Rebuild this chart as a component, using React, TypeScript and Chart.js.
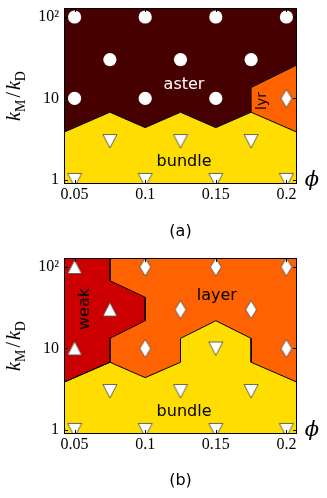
import React, { useEffect, useRef } from 'react';
import { Chart, registerables } from 'chart.js';
Chart.register(...registerables);

// ---------- axes ----------
const phiLimits = [0.0425, 0.2075];
const kLimits = [0.89, 129];
const phiTicks = [0.05, 0.1, 0.15, 0.2];
const phiTickLabels = ['0.05', '0.1', '0.15', '0.2'];
const kTicks = [1, 10, 100];
const kTickLabels = ['1', '10', '10²'];

// ---------- panel (a): simulation points ----------
const asterPhiA = [0.05, 0.1, 0.15, 0.2, 0.075, 0.125, 0.175, 0.05, 0.1, 0.15];
const asterKA = [100, 100, 100, 100, 30, 30, 30, 10, 10, 10];
const lyrPhiA = [0.2];
const lyrKA = [10];
const bundlePhiA = [0.075, 0.125, 0.175, 0.05, 0.1, 0.15, 0.2];
const bundleKA = [3, 3, 3, 1, 1, 1, 1];

// ---------- panel (a): phase boundaries ----------
const bundleEdgePhiA = [0.0425, 0.075, 0.1, 0.125, 0.15, 0.175, 0.2075];
const bundleEdgeKA = [3.85, 6.77, 4.38, 6.77, 4.38, 6.77, 3.85];
const lyrEdgePhiA = [0.175, 0.175, 0.2075];
const lyrEdgeKA = [6.77, 13.6, 25.8];

// ---------- panel (b): simulation points ----------
const weakPhiB = [0.05, 0.075, 0.05];
const weakKB = [100, 30, 10];
const layerPhiB = [0.1, 0.15, 0.2, 0.125, 0.175, 0.1, 0.2];
const layerKB = [100, 100, 100, 30, 30, 10, 10];
const bundlePhiB = [0.15, 0.075, 0.125, 0.175, 0.05, 0.1, 0.15, 0.2];
const bundleKB = [10, 3, 3, 3, 1, 1, 1, 1];

// ---------- panel (b): phase boundaries ----------
const bundleEdgePhiB = [0.0425, 0.075, 0.1, 0.125, 0.125, 0.15, 0.175, 0.175, 0.2075];
const bundleEdgeKB = [3.85, 6.77, 4.38, 6.77, 13.3, 21.9, 13.3, 6.77, 3.85];
const weakEdgePhiB = [0.075, 0.075, 0.1, 0.1, 0.075, 0.075];
const weakEdgeKB = [129, 67.9, 42.5, 21.9, 13.3, 6.77];

// ---------- region labels (data coordinates) ----------
const regionNamesA = ['aster', 'lyr', 'bundle'];
const regionPhiA = [0.1275, 0.1854, 0.1275];
const regionKA = [13.0, 9.3, 1.5];
const regionNamesB = ['weak', 'layer', 'bundle'];
const regionPhiB = [0.0601, 0.1507, 0.1275];
const regionKB = [30.5, 39.4, 1.5];

// ---------- styles ----------
const COLORS = { aster: '#470000', bundle: '#ffdd00', layer: '#ff6200', weak: '#cc0000' };
const labelStyle: any = {
  aster: { color: '#ffffff', size: 16, rot: 0 },
  lyr: { color: '#000000', size: 14, rot: -90 },
  bundle: { color: '#000000', size: 16, rot: 0 },
  weak: { color: '#000000', size: 16, rot: -90 },
  layer: { color: '#000000', size: 16, rot: 0 },
};

const zip = (xs: number[], ys: number[]) => xs.map((x, i) => ({ x, y: ys[i] }));
const [pL, pR] = phiLimits;
const [kB, kT] = kLimits;

const bundleEdgeA = zip(bundleEdgePhiA, bundleEdgeKA);
const lyrEdgeA = zip(lyrEdgePhiA, lyrEdgeKA);
const polysA = [
  { color: COLORS.aster, border: false, pts: [...bundleEdgeA.slice(0, 6), ...lyrEdgeA.slice(1), { x: pR, y: kT }, { x: pL, y: kT }] },
  { color: COLORS.layer, border: true, pts: [...lyrEdgeA, bundleEdgeA[6]] },
  { color: COLORS.bundle, border: true, pts: [{ x: pL, y: kB }, ...bundleEdgeA, { x: pR, y: kB }] },
];
const markersA = [
  { phi: asterPhiA, k: asterKA, style: 'circle' },
  { phi: lyrPhiA, k: lyrKA, style: 'diamond' },
  { phi: bundlePhiA, k: bundleKA, style: 'down' },
];

const bundleEdgeB = zip(bundleEdgePhiB, bundleEdgeKB);
const weakEdgeB = zip(weakEdgePhiB, weakEdgeKB);
const polysB = [
  { color: COLORS.layer, border: false, pts: [...weakEdgeB, ...bundleEdgeB.slice(2), { x: pR, y: kT }] },
  { color: COLORS.weak, border: true, pts: [...weakEdgeB, bundleEdgeB[0], { x: pL, y: kT }] },
  { color: COLORS.bundle, border: true, pts: [{ x: pL, y: kB }, ...bundleEdgeB, { x: pR, y: kB }] },
];
const markersB = [
  { phi: weakPhiB, k: weakKB, style: 'up' },
  { phi: layerPhiB, k: layerKB, style: 'diamond' },
  { phi: bundlePhiB, k: bundleKB, style: 'down' },
];

function makeMarkers() {
  const mk = (w: number, h: number, path: (g: CanvasRenderingContext2D) => void) => {
    const c = document.createElement('canvas');
    c.width = w;
    c.height = h;
    const g = c.getContext('2d')!;
    g.beginPath();
    path(g);
    g.closePath();
    g.fillStyle = '#ffffff';
    g.fill();
    g.lineWidth = 0.8;
    g.strokeStyle = '#444444';
    g.lineJoin = 'miter';
    g.stroke();
    return c;
  };
  return {
    circle: 'circle',
    down: mk(16, 16, (g) => { g.moveTo(1, 1.5); g.lineTo(15, 1.5); g.lineTo(8, 15); }),
    up: mk(16, 16, (g) => { g.moveTo(8, 1); g.lineTo(15, 14.5); g.lineTo(1, 14.5); }),
    diamond: mk(14, 20, (g) => { g.moveTo(7, 1); g.lineTo(12.5, 10); g.lineTo(7, 19); g.lineTo(1.5, 10); }),
  } as any;
}

const SERIF = '"Liberation Serif", "DejaVu Serif", serif';

const decorPlugin = {
  id: 'decor',
  afterDatasetsDraw(chart: any, _args: any, opts: any) {
    const { ctx, chartArea: a } = chart;
    const xs = chart.scales.x;
    const ys = chart.scales.y;
    ctx.save();
    // region labels
    opts.names.forEach((name: string, i: number) => {
      const st = labelStyle[name];
      const px = xs.getPixelForValue(opts.phi[i]);
      const py = ys.getPixelForValue(opts.k[i]);
      ctx.save();
      ctx.translate(px, py);
      if (st.rot) ctx.rotate((st.rot * Math.PI) / 180);
      ctx.font = `${st.size}px "DejaVu Sans"`;
      ctx.fillStyle = st.color;
      ctx.textAlign = 'center';
      ctx.textBaseline = 'alphabetic';
      ctx.fillText(name, 0, 0);
      ctx.restore();
    });
    // frame
    ctx.strokeStyle = '#000';
    ctx.lineWidth = 1;
    ctx.strokeRect(a.left + 0.5, a.top + 0.5, a.right - a.left - 1, a.bottom - a.top - 1);
    // inward ticks on all sides
    ctx.beginPath();
    phiTicks.forEach((v) => {
      const px = Math.round(xs.getPixelForValue(v)) + 0.5;
      ctx.moveTo(px, a.bottom); ctx.lineTo(px, a.bottom - 4);
      ctx.moveTo(px, a.top); ctx.lineTo(px, a.top + 4);
    });
    kTicks.forEach((v) => {
      const py = Math.round(ys.getPixelForValue(v)) + 0.5;
      ctx.moveTo(a.left, py); ctx.lineTo(a.left + 4, py);
      ctx.moveTo(a.right, py); ctx.lineTo(a.right - 4, py);
    });
    ctx.stroke();
    // y axis title  k_M / k_D
    const S = 20;
    const sub = `${Math.round(S * 0.7)}px ${SERIF}`;
    const parts: [string, string, number, number][] = [
      ['k', `italic ${S}px ${SERIF}`, 0, 0],
      ['M', sub, S * 0.25, 2],
      ['/', `${S}px ${SERIF}`, 0, 2],
      ['k', `italic ${S}px ${SERIF}`, 0, 0],
      ['D', sub, S * 0.25, 0],
    ];
    let total = 0;
    const widths = parts.map(([t, f, , gap]) => { ctx.font = f; const w = ctx.measureText(t).width + gap; total += w; return w; });
    ctx.save();
    ctx.translate(20, (a.top + a.bottom) / 2);
    ctx.rotate(-Math.PI / 2);
    ctx.fillStyle = '#000';
    ctx.textAlign = 'left';
    ctx.textBaseline = 'alphabetic';
    let x = -total / 2;
    parts.forEach(([t, f, dy], i) => { ctx.font = f; ctx.fillText(t, x, dy); x += widths[i]; });
    ctx.restore();
    // x axis title phi
    ctx.font = `italic 21px "DejaVu Serif", serif`;
    ctx.fillStyle = '#000';
    ctx.textAlign = 'center';
    ctx.textBaseline = 'alphabetic';
    ctx.fillText('ϕ', a.right + 15, a.bottom + 2);
    ctx.restore();
  },
};

function PhaseChart({ polys, markers, names, phi, k }: any) {
  const ref = useRef<HTMLCanvasElement>(null);
  useEffect(() => {
    const shapes = makeMarkers();
    const n = polys.length;
    const datasets: any[] = [
      ...markers.map((m: any) => ({
        type: 'scatter',
        data: zip(m.phi, m.k),
        pointStyle: shapes[m.style],
        pointRadius: m.style === 'circle' ? 6.6 : 7,
        pointHoverRadius: m.style === 'circle' ? 6.6 : 7,
        backgroundColor: '#ffffff',
        borderColor: '#ffffff',
        borderWidth: 0,
        clip: 0,
        order: 0,
      })),
      ...polys.map((p: any, i: number) => ({
        type: 'line',
        data: p.pts,
        fill: 'shape',
        backgroundColor: p.color,
        borderColor: p.border ? '#000000' : 'rgba(0,0,0,0)',
        borderWidth: 1,
        borderJoinStyle: 'miter',
        pointRadius: 0,
        pointHoverRadius: 0,
        tension: 0,
        clip: 0,
        order: n - i,
      })),
    ];
    const chart = new Chart(ref.current as HTMLCanvasElement, {
      type: 'scatter',
      data: { datasets },
      options: {
        responsive: false,
        animation: false,
        events: [],
        layout: { padding: { left: 0, right: 30, top: 8, bottom: 0 } },
        plugins: {
          legend: { display: false },
          tooltip: { enabled: false },
          filler: { drawTime: 'beforeDatasetsDraw' },
          decor: { names, phi, k },
        } as any,
        scales: {
          x: {
            type: 'linear',
            min: phiLimits[0],
            max: phiLimits[1],
            bounds: 'data',
            afterBuildTicks: (s: any) => { s.ticks = phiTicks.map((v) => ({ value: v })); },
            afterFit: (s: any) => { s.height = 66; s.paddingLeft = 0; s.paddingRight = 0; },
            ticks: {
              callback: (v: any) => phiTickLabels[phiTicks.indexOf(Number(v))] ?? '',
              font: { family: SERIF, size: 16 },
              color: '#000',
              padding: 1,
              maxRotation: 0,
              minRotation: 0,
              autoSkip: false,
            },
            grid: { display: false, drawTicks: false },
            border: { display: false },
          },
          y: {
            type: 'logarithmic',
            min: kLimits[0],
            max: kLimits[1],
            bounds: 'data',
            afterBuildTicks: (s: any) => { s.ticks = kTicks.map((v) => ({ value: v, major: true })); },
            afterFit: (s: any) => { s.width = 64; s.paddingTop = 0; s.paddingBottom = 0; },
            ticks: {
              callback: (v: any) => kTickLabels[kTicks.indexOf(Number(v))] ?? '',
              font: { family: SERIF, size: 16 },
              color: '#000',
              padding: 5,
              autoSkip: false,
            },
            grid: { display: false, drawTicks: false },
            border: { display: false },
          },
        } as any,
      },
      plugins: [decorPlugin as any],
    } as any);
    return () => chart.destroy();
  }, []);
  return <canvas ref={ref} width={327} height={250} style={{ display: 'block', width: 327, height: 250 }} />;
}

const captionStyle: any = {
  position: 'absolute',
  left: 64,
  width: 233,
  textAlign: 'center',
  fontFamily: '"DejaVu Sans", sans-serif',
  fontSize: 16,
  lineHeight: '18px',
  color: '#000',
};

export default function App() {
  return (
    <div style={{ position: 'absolute', left: 0, top: 0, width: 327, height: 498, background: '#fff', overflow: 'hidden' }}>
      <div style={{ position: 'absolute', left: 0, top: 0 }}>
        <PhaseChart polys={polysA} markers={markersA} names={regionNamesA} phi={regionPhiA} k={regionKA} />
      </div>
      <div style={{ ...captionStyle, top: 222 }}>(a)</div>
      <div style={{ position: 'absolute', left: 0, top: 250 }}>
        <PhaseChart polys={polysB} markers={markersB} names={regionNamesB} phi={regionPhiB} k={regionKB} />
      </div>
      <div style={{ ...captionStyle, top: 471 }}>(b)</div>
    </div>
  );
}
